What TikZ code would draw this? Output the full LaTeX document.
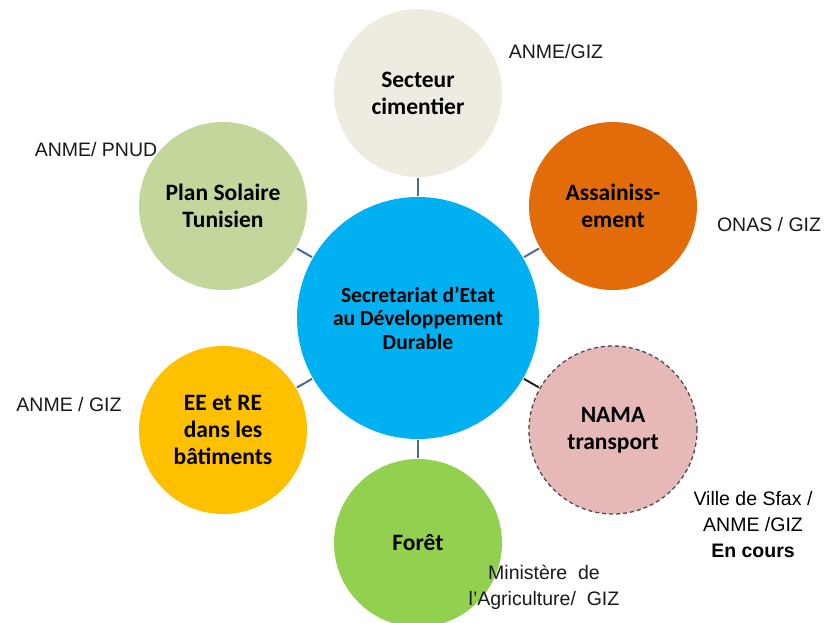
\documentclass[tikz,border=0pt]{standalone}
\usepackage{fontspec}
\setmainfont{Liberation Sans}
\newfontfamily\calib{Carlito}
\definecolor{cblue}{HTML}{00B0F0}
\definecolor{cbeige}{HTML}{EEECE1}
\definecolor{corange}{HTML}{E36C0A}
\definecolor{cpink}{HTML}{E6B9B8}
\definecolor{cgreen}{HTML}{92D050}
\definecolor{cyellow}{HTML}{FFC000}
\definecolor{colive}{HTML}{C3D69B}
\definecolor{tickc}{HTML}{4A6B9D}
\begin{document}
\begin{tikzpicture}[x=1pt,y=-1pt,
  bub/.style={circle,minimum size=168pt,inner sep=0pt,align=center,text=black,
    font=\calib\bfseries\fontsize{23.5}{27}\selectfont},
  lab/.style={align=center,inner sep=0pt,text=black!90,font=\fontsize{19.5}{26}\selectfont},
  tk/.style={draw=tickc,line width=2pt,shorten <=1pt,shorten >=1pt}]
\useasboundingbox (0,0) rectangle (829,622);
\node[bub,fill=cblue,minimum size=242pt,font=\calib\bfseries\fontsize{21.5}{23.5}\selectfont] (c) at (418,318) {Secretariat d’Etat\\au Développement\\Durable};
\node[bub,fill=cbeige] (s1) at (418,93) {Secteur\\cimentier};
\node[bub,fill=corange] (s2) at (613,206) {Assainiss-\\ement};
\node[bub,fill=cpink,draw=black!70,dashed,line width=1.3pt,dash pattern=on 4pt off 3pt] (s3) at (613,430) {NAMA\\transport};
\node[bub,fill=cgreen] (s4) at (418,543) {Forêt};
\node[bub,fill=cyellow] (s5) at (223,430) {EE et RE\\dans les\\bâtiments};
\node[bub,fill=colive] (s6) at (223,206) {Plan Solaire\\Tunisien};
\draw[tk] (c) -- (s1);
\draw[tk] (c) -- (s2);
\draw[tk,draw=black!85] (c) -- (s3);
\draw[tk] (c) -- (s4);
\draw[tk] (c) -- (s5);
\draw[tk] (c) -- (s6);
\node[lab] (l1) at (556,52) {ANME/GIZ};
\node[lab] (l2) at (769,225) {ONAS / GIZ};
\node[lab,text=black] (l3) at (753,525) {Ville de Sfax /\\ANME /GIZ\\\textbf{En cours}};
\node[lab] (l4) at (544,587) {Ministère~ de\\l{\char39}Agriculture/~ GIZ};
\node[lab] (l5) at (69,405) {ANME / GIZ};
\node[lab] (l6) at (96,150) {ANME/ PNUD};
\end{tikzpicture}
\end{document}
